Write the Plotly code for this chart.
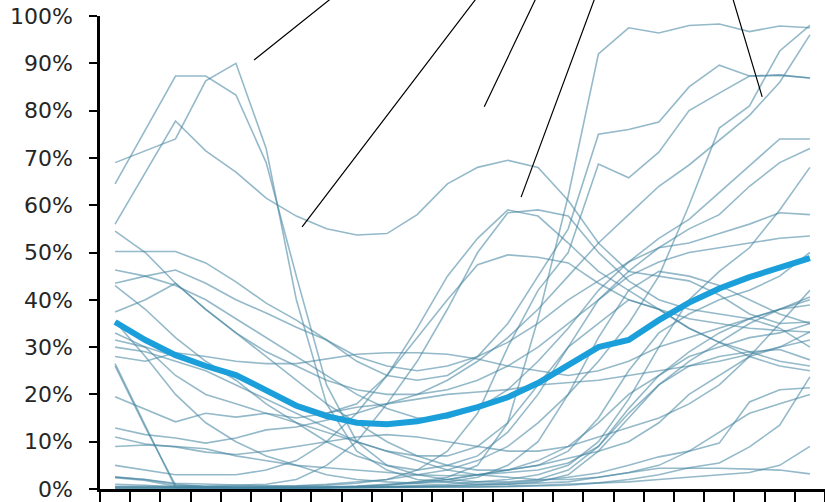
import plotly.graph_objects as go

# 24 periods along the x axis (category slots, no labels shown)
periods = list(range(24))

# Individual series, values in percent
series = [
    [64.5, 76, 87.3, 87.3, 83.3, 69, 45, 22, 10, 5, 3, 2, 1.5, 1.5, 2, 4, 9, 17, 24, 29, 33, 36, 38, 40.6],
    [69, 71.5, 74, 86.3, 90, 72, 40, 18, 8, 4, 2, 1.5, 1, 1, 1.5, 3, 8, 15, 22, 27, 31, 35, 38, 38.9],
    [56, 67, 77.8, 71.5, 67, 61.5, 57.7, 55, 53.7, 54, 58, 64.5, 68, 69.5, 68, 61, 52, 46, 45, 44, 41, 37, 35, 35.3],
    [2.5, 2, 1, 0.5, 0.3, 0.2, 0.2, 0.3, 0.5, 0.8, 1.5, 2.5, 5, 14, 36, 62, 92, 97.5, 96.4, 98, 98.3, 96.7, 97.9, 97.5],
    [50.2, 50.2, 50.2, 47.8, 43.8, 39.3, 35.7, 31.5, 27, 24, 23, 24, 28, 35, 45, 55, 75, 76, 77.6, 85, 89.6, 87.3, 87.5, 86.9],
    [0.5, 0.4, 0.3, 0.3, 0.4, 0.5, 0.7, 1, 1.5, 2, 4, 8, 16, 30, 42, 50, 68.7, 65.8, 71.2, 80, 83.7, 87.3, 87.5, 86.9],
    [26, 13, 0.8, 0.5, 0.5, 0.5, 0.6, 0.8, 1.2, 2, 3, 4, 6, 9, 14, 20, 27, 35, 45, 60, 76.3, 81, 92.6, 98],
    [12.9, 11.5, 10.8, 9.7, 10.8, 12.5, 13.1, 14.5, 16, 18, 20, 23, 27, 32, 38, 45, 52, 58, 64, 68.5, 73.8, 79, 86, 96],
    [46.3, 45, 43, 40, 36, 32, 28, 24, 20, 17, 15, 15, 17, 21, 27, 34, 42, 48, 53, 57, 62.6, 68.3, 74, 74],
    [37.4, 40, 43.5, 38, 33, 29, 26, 23, 21, 20, 20, 21, 23, 26, 30, 35, 40, 46, 51, 55, 58, 64, 69, 72],
    [2.4, 1.8, 0.6, 0.4, 0.3, 0.3, 0.3, 0.3, 0.4, 0.5, 0.7, 1, 1.5, 2, 3, 5, 10, 19, 30, 40, 46, 51, 59, 68],
    [43.5, 45, 46.3, 43.5, 40, 37.2, 34.2, 31.5, 28, 26, 25, 26, 28, 31, 35, 40, 44, 48, 51, 52, 54, 56, 58.4, 58],
    [31.5, 30, 28, 26, 24, 21, 18, 16, 18, 24, 32, 40, 47.4, 49.5, 49, 47.8, 43.5, 40, 38, 36, 35, 34, 33.5, 33.2],
    [28, 27, 28.8, 28, 27, 26.5, 26.5, 27.5, 28.5, 28.8, 28.8, 28.5, 27.5, 26, 25, 24, 25, 27, 30, 32, 34, 36, 38, 40],
    [19.5, 16.8, 14.2, 16, 15.2, 16, 15, 16, 17.3, 18, 19, 20, 20.5, 21, 22, 22.5, 23, 24, 25, 26, 27, 28.5, 30, 31.5],
    [11, 9.5, 8.9, 7.8, 7.3, 8, 9, 10, 11, 11.5, 11, 10, 9, 8, 8, 9, 11, 13, 15, 18, 22, 28, 35, 42],
    [9, 9.3, 9, 8.5, 7, 6, 5, 4.5, 4, 3.5, 3, 2.8, 3, 3.5, 4, 5.5, 9, 16, 22, 26, 28, 29, 29.5, 27.3],
    [26.5, 13.5, 0.3, 0.2, 0.2, 0.2, 0.2, 0.3, 0.5, 0.8, 1.2, 2, 3, 4, 5, 6.5, 8, 10, 14, 20, 24, 28, 30, 33.2],
    [2.6, 2, 1.2, 1, 0.8, 0.6, 0.5, 0.5, 0.4, 0.4, 0.5, 0.6, 0.8, 1, 1.2, 1.5, 2.5, 3.4, 4.4, 4.4, 4.4, 4.2, 4, 3.2],
    [0.3, 0.3, 0.2, 0.2, 0.2, 0.2, 0.2, 0.3, 0.3, 0.4, 0.5, 0.7, 1, 1.3, 1.8, 2.5, 3.4, 5, 6.8, 8, 9.7, 18.4, 21, 21.4],
    [1, 0.8, 0.4, 0.3, 0.3, 0.3, 0.3, 0.3, 0.3, 0.3, 0.3, 0.4, 0.4, 0.5, 0.6, 0.8, 1.3, 2, 3, 4.5, 5.5, 8.9, 13.5, 23.7],
    [54.5, 50, 43.5, 38, 33, 28, 23, 18, 14, 10, 7, 5, 4, 4, 5, 8, 15, 25, 33, 37, 40, 42, 45, 50],
    [35.4, 28, 20, 14, 10, 7, 5, 3, 2, 1.5, 1.2, 1.5, 2.5, 5, 10, 20, 32, 42, 46, 45, 43, 40, 37, 35],
    [43, 38, 32, 27, 23, 18, 14, 10, 7, 5, 4, 5, 7, 12, 20, 30, 40, 45, 48, 50, 51, 52, 53, 53.5],
    [33, 30, 24, 20, 18, 16, 14, 12, 10, 8, 7, 7, 9, 14, 22, 30, 35, 40, 38, 34, 31, 28, 26, 25],
    [0.5, 0.5, 0.5, 0.6, 0.8, 1, 2, 5, 10, 18, 27, 38, 50, 58.4, 59, 57.7, 50, 44, 40, 38, 37, 36, 34, 30],
    [5, 4, 3, 3, 3, 4, 6, 10, 16, 24, 34, 45, 53, 59, 57.7, 52, 46, 42, 38, 34, 31, 29, 27, 26],
    [0.2, 0.2, 0.2, 0.2, 0.2, 0.2, 0.3, 0.4, 0.6, 1, 1.5, 2, 3, 4, 6, 9, 14, 20, 24, 28, 30, 32, 33, 35],
    [30, 29, 27, 25, 22, 19, 16, 13, 10, 8, 6, 4, 3, 2.5, 2, 2, 2.5, 3.5, 5, 8, 12, 16, 18, 20],
    [0.1, 0.1, 0.1, 0.1, 0.1, 0.2, 0.2, 0.2, 0.3, 0.3, 0.4, 0.5, 0.5, 0.6, 0.8, 1, 1.2, 1.5, 2, 2.5, 3, 3.5, 5, 9],
]

# Average across series, percent
average = [35.3, 31.5, 28.3, 26.0, 24.1, 21.0, 17.6, 15.4, 14.0, 13.7, 14.3, 15.6, 17.3, 19.4, 22.4, 26.2,
           30.0, 31.5, 35.7, 39.4, 42.4, 44.8, 46.9, 48.8]

# Callout leader lines: (head x, head y %, tail x, tail y %)
callouts = [
    (4.60, 90.7, 7.60, 106.0),
    (6.19, 55.4, 12.23, 106.0),
    (12.22, 80.8, 14.10, 106.0),
    (13.44, 61.7, 16.01, 106.0),
    (21.42, 82.9, 20.34, 106.0),
]

fig = go.Figure()

for s in series:
    fig.add_trace(go.Scatter(
        x=periods, y=[v / 100 for v in s], mode="lines",
        line=dict(color="rgba(70,135,162,0.58)", width=1.6),
        hoverinfo="skip", showlegend=False,
    ))

fig.add_trace(go.Scatter(
    x=periods, y=[v / 100 for v in average], mode="lines",
    line=dict(color="#1a9fdb", width=6),
    showlegend=False,
))

for hx, hy, tx, ty in callouts:
    fig.add_annotation(
        x=hx, y=hy / 100, ax=tx, ay=ty / 100,
        xref="x", yref="y", axref="x", ayref="y",
        text="", showarrow=True, arrowhead=0, arrowwidth=1.2,
        arrowcolor="black", standoff=0, startstandoff=0,
    )

fig.update_layout(
    width=825, height=502,
    margin=dict(l=100, r=0, t=16, b=13),
    paper_bgcolor="white", plot_bgcolor="white",
    font=dict(family="DejaVu Sans", color="#262626"),
)

fig.update_xaxes(
    range=[-0.5, 23.5],
    tickmode="array", tickvals=[p - 0.5 for p in periods] + [23.5],
    showticklabels=False, ticks="outside", ticklen=10, tickwidth=2, tickcolor="black",
    showline=True, linecolor="black", linewidth=2.5,
    showgrid=False, zeroline=False,
)

fig.update_yaxes(
    range=[0, 1], tickmode="linear", tick0=0, dtick=0.1, tickformat=".0%",
    ticks="outside", ticklen=8, tickwidth=2, tickcolor="black",
    tickfont=dict(size=22, family="DejaVu Sans", color="#262626"),
    ticklabelstandoff=12,
    showline=True, linecolor="black", linewidth=2.5,
    showgrid=False, zeroline=False,
)

fig.write_html("out.html")
